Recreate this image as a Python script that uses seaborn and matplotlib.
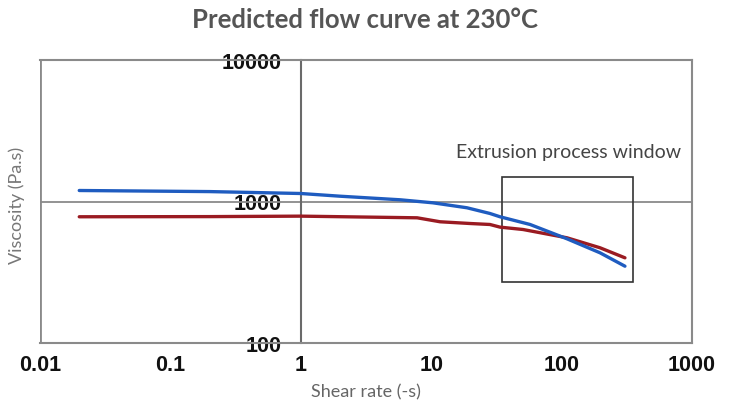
import matplotlib
matplotlib.use("Agg")
import matplotlib.pyplot as plt
import seaborn as sns
import pandas as pd
import numpy as np
from matplotlib.ticker import LogLocator, FixedLocator, FixedFormatter, NullFormatter
from matplotlib.patches import Rectangle

# ---- data ----
blue_shear = [0.02, 0.2, 1.0, 2.0, 5.8, 10.3, 18.8, 28.2, 33.7, 57.3, 110, 197, 306]
blue_visc = [1196, 1175, 1139, 1090, 1028, 979, 903, 823, 780, 688, 545, 434, 349]
red_shear = [0.02, 0.2, 1.0, 7.8, 11.7, 19.9, 28.2, 33.7, 50.6, 110, 197, 306]
red_visc = [780, 782, 788, 767, 719, 699, 688, 659, 634, 554, 471, 400]

x_ticks = [0.01, 0.1, 1, 10, 100, 1000]
x_tick_labels = ["0.01", "0.1", "1", "10", "100", "1000"]
y_ticks = [100, 1000, 10000]
y_tick_labels = ["100", "1000", "10000"]

window_x = [35, 350]
window_y = [272, 1500]

title = "Predicted flow curve at 230°C"
xlabel = "Shear rate (-s)"
ylabel = "Viscosity (Pa.s)"
window_label = "Extrusion process window"

# ---- figure ----
sns.set_style("white")
plt.rcParams['font.family'] = ['Lato', 'DejaVu Sans']
fig = plt.figure(figsize=(7.4, 4.14), dpi=100)
ax = fig.add_axes([40/740, 1-344/414, 652/740, 283/414])

frame_c = "#8a8a8a"
df_b = pd.DataFrame({"shear": blue_shear, "visc": blue_visc})
df_r = pd.DataFrame({"shear": red_shear, "visc": red_visc})
sns.lineplot(data=df_b, x="shear", y="visc", ax=ax, color="#1f5cc0", lw=2.4, zorder=4)
sns.lineplot(data=df_r, x="shear", y="visc", ax=ax, color="#9a1b22", lw=2.4, zorder=3)

ax.set_xscale("log")
ax.set_yscale("log")
ax.set_xlim(0.01, 1000)
ax.set_ylim(100, 10000)

# horizontal grid
ax.axhline(1000, color=frame_c, lw=1.3, zorder=1)

# spines
for s in ["top", "right", "bottom"]:
    ax.spines[s].set_color(frame_c)
    ax.spines[s].set_linewidth(1.5)
ax.spines["left"].set_position(("data", 1))
ax.spines["left"].set_color("#6a6a6a")
ax.spines["left"].set_linewidth(1.5)
ax.axvline(0.01, color=frame_c, lw=2.0, zorder=1)

# ticks
ax.xaxis.set_major_locator(FixedLocator(x_ticks))
ax.xaxis.set_major_formatter(FixedFormatter(x_tick_labels))
ax.xaxis.set_minor_locator(LogLocator(base=10, subs=np.arange(2, 10)))
ax.xaxis.set_minor_formatter(NullFormatter())
ax.yaxis.set_major_locator(FixedLocator(y_ticks))
ax.yaxis.set_major_formatter(FixedFormatter(y_tick_labels))
ax.yaxis.set_minor_locator(LogLocator(base=10, subs=np.arange(2, 10)))
ax.yaxis.set_minor_formatter(NullFormatter())

ax.tick_params(axis="x", which="major", direction="in", length=7, width=1.2, color="#555555",
               pad=8, labelsize=15.5)
ax.tick_params(axis="x", which="minor", direction="in", length=4, width=1.0, color="#555555")
ax.tick_params(axis="y", which="major", direction="out", length=5, width=1.2, color="#555555",
               pad=9, labelsize=15.5)
ax.tick_params(axis="y", which="minor", direction="in", length=5, width=1.0, color="#555555")
for lab in ax.get_xticklabels() + ax.get_yticklabels():
    lab.set_fontfamily(["Liberation Sans", "DejaVu Sans"])
    lab.set_fontweight("bold")
    lab.set_color("#111111")
for lab in ax.get_yticklabels():
    lab.set_zorder(5)

# extrusion window box
ax.add_patch(Rectangle((window_x[0], window_y[0]), window_x[1]-window_x[0], window_y[1]-window_y[0],
                       fill=False, edgecolor="#333333", lw=1.2, zorder=2))
ax.text(114, 2256, window_label, ha="center", va="center",
        fontsize=14, color="#444444")

# labels
ax.set_xlabel(xlabel, fontsize=13, color="#666666", labelpad=6)
fig.text(17/740, 1-205/414, ylabel, rotation=90, ha="center", va="center", fontsize=13,
         color="#777777")
ax.set_ylabel("")
fig.text(365/740, 1-20/414, title, ha="center", va="center", fontsize=18.5, fontweight="bold", color="#555555")

fig.savefig("out.png", dpi=100)
